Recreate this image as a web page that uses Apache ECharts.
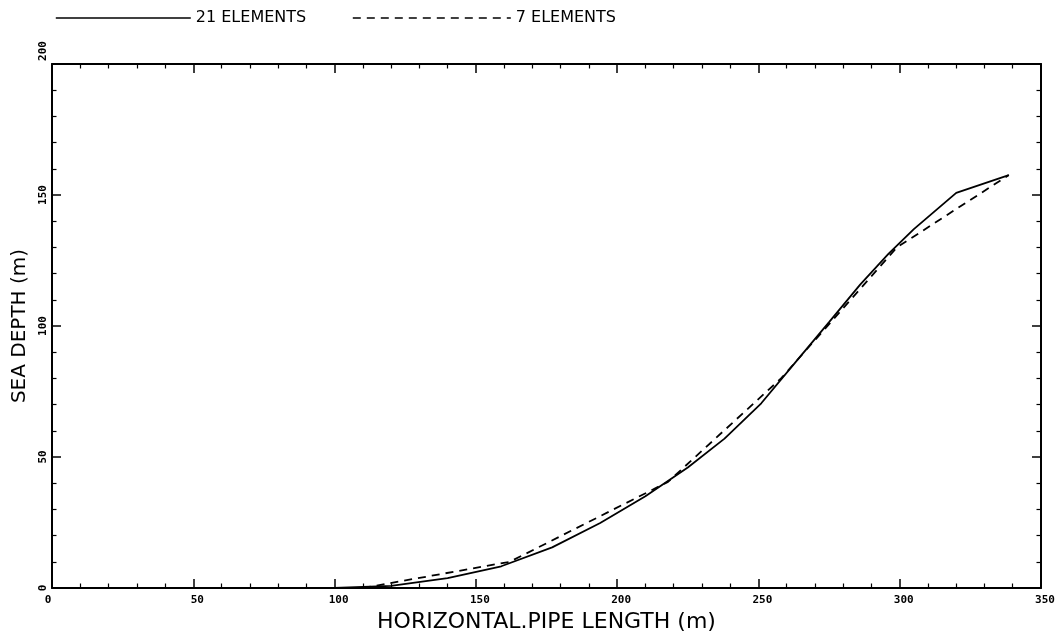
<!DOCTYPE html>
<html><head><meta charset="utf-8">
<script src="https://cdn.jsdelivr.net/npm/echarts@6/dist/echarts.min.js"></script>
<style>html,body{margin:0;padding:0;background:#fff}#c{width:1064px;height:638px}</style>
</head><body><div id="c"></div>
<script>
const seriesNames = ['21 ELEMENTS', '7 ELEMENTS'];
// 21-element solution (solid)
const solidX = [100, 120, 140, 159, 177, 194, 210, 225, 238, 251, 263, 275, 286, 296, 305, 320, 338.6];
const solidY = [0, 0.8, 3.8, 8.3, 15.5, 24.8, 35, 46, 57, 70.5, 86, 101.5, 115.8, 127.5, 137, 150.8, 157.6];
// 7-element solution (dashed)
const dashX = [110, 162, 218, 258, 299, 338.6];
const dashY = [0, 10, 40.5, 80, 130, 157.6];
const xTicks = [0, 50, 100, 150, 200, 250, 300, 350];
const yTicks = [0, 50, 100, 150, 200];
const xTitle = 'HORIZONTAL.PIPE LENGTH (m)';
const yTitle = 'SEA DEPTH (m)';

const chart = echarts.init(document.getElementById('c'), null, {renderer: 'canvas'});
const black = '#000';
const tickFont = {fontFamily: 'DejaVu Sans Mono', fontWeight: 'bold', fontSize: 11, color: black};
const xTitleFont = {fontFamily: 'DejaVu Sans', fontSize: 22, color: black};
const yTitleFont = {fontFamily: 'DejaVu Sans', fontSize: 20, color: black};
const legendFont = {fontFamily: 'DejaVu Sans', fontSize: 16, color: black};

function axisCommon(vals) {
  return {
    type: 'value',
    min: vals[0],
    max: vals[vals.length - 1],
    interval: vals[1] - vals[0],
    axisLine: {show: true, onZero: false, lineStyle: {color: black, width: 2}},
    axisTick: {show: true, inside: true, length: 9, lineStyle: {color: black, width: 1.5}},
    minorTick: {show: true, splitNumber: 5, length: 4.5, lineStyle: {color: black, width: 1.2}},
    splitLine: {show: false},
    minorSplitLine: {show: false}
  };
}

const legendCommon = {
  top: 10, padding: 0, itemHeight: 14, textStyle: legendFont, selectedMode: false,
  itemStyle: {opacity: 0},
  lineStyle: {width: 1.6}
};

const option = {
  animation: false,
  backgroundColor: '#fff',
  grid: {left: 52, right: 23, top: 64, bottom: 50, containLabel: false},
  legend: [
    Object.assign({data: [seriesNames[0]], left: 55, itemWidth: 135}, legendCommon),
    Object.assign({data: [seriesNames[1]], left: 352, itemWidth: 158}, legendCommon)
  ],
  xAxis: [
    Object.assign(axisCommon(xTicks), {
      position: 'bottom',
      name: xTitle, nameLocation: 'middle', nameGap: 15, nameTextStyle: xTitleFont,
      axisLabel: {
        show: true, margin: 7,
        formatter: v => v === 0 ? '{z|0}' : '{n|' + v + '}',
        rich: {
          z: Object.assign({padding: [0, 8, 0, 0]}, tickFont),
          n: Object.assign({padding: [0, 0, 0, 8]}, tickFont)
        }
      }
    }),
    Object.assign(axisCommon(xTicks), {position: 'top', axisLabel: {show: false}})
  ],
  yAxis: [
    Object.assign(axisCommon(yTicks), {
      position: 'left',
      name: yTitle, nameLocation: 'middle', nameGap: 19, nameTextStyle: yTitleFont, nameRotate: 90,
      axisLabel: {
        show: true, rotate: 90, margin: 3,
        formatter: v => v === 200 ? '{t|200}' : '{n|' + v + '}',
        rich: {
          t: Object.assign({padding: [0, 0, 0, 26]}, tickFont),
          n: Object.assign({}, tickFont)
        }
      }
    }),
    Object.assign(axisCommon(yTicks), {position: 'right', axisLabel: {show: false}})
  ],
  series: [
    {
      name: seriesNames[0], type: 'line', xAxisIndex: 0, yAxisIndex: 0,
      data: solidX.map((x, i) => [x, solidY[i]]),
      symbol: 'none', smooth: false,
      lineStyle: {color: black, width: 1.8, type: 'solid'},
      itemStyle: {color: black}
    },
    {
      name: seriesNames[1], type: 'line', xAxisIndex: 0, yAxisIndex: 0,
      data: dashX.map((x, i) => [x, dashY[i]]),
      symbol: 'none', smooth: false,
      lineStyle: {color: black, width: 1.8, type: [8, 6]},
      itemStyle: {color: black}
    }
  ]
};
chart.setOption(option);
</script>
</body></html>
